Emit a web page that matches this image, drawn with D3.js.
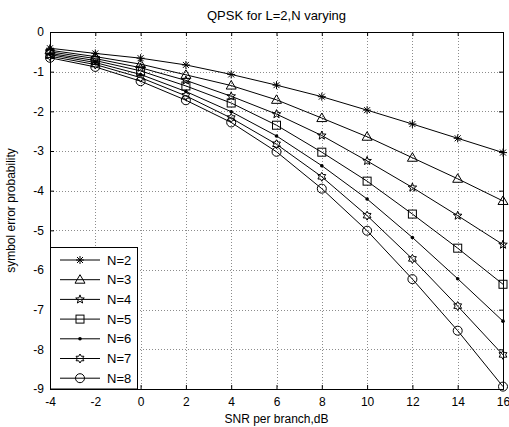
<!DOCTYPE html>
<meta charset="utf-8">
<style>
body { margin: 0; background: #fff; }
text { font-family: "Liberation Sans", Arial, sans-serif; font-size: 12px; fill: #000; }
.grid line { stroke: #8c8c8c; stroke-dasharray: 1,2; shape-rendering: crispEdges; }
.data-line { fill: none; stroke: #000; stroke-width: 1px; }
</style>
<body>
<script src="https://d3js.org/d3.v7.min.js"></script>
<script>

var snr = [-4, -2, 0, 2, 4, 6, 8, 10, 12, 14, 16];
var seriesNames = ["N=2", "N=3", "N=4", "N=5", "N=6", "N=7", "N=8"];
var n2 = [-0.41, -0.54, -0.66, -0.83, -1.07, -1.34, -1.63, -1.97, -2.32, -2.68, -3.04];
var n3 = [-0.46, -0.62, -0.81, -1.08, -1.35, -1.71, -2.17, -2.64, -3.17, -3.70, -4.26];
var n4 = [-0.50, -0.67, -0.90, -1.22, -1.62, -2.07, -2.61, -3.25, -3.92, -4.63, -5.36];
var n5 = [-0.54, -0.72, -0.98, -1.36, -1.79, -2.35, -3.03, -3.76, -4.59, -5.45, -6.36];
var n6 = [-0.57, -0.77, -1.07, -1.50, -2.01, -2.62, -3.37, -4.21, -5.18, -6.22, -7.29];
var n7 = [-0.61, -0.82, -1.15, -1.61, -2.17, -2.83, -3.65, -4.63, -5.72, -6.91, -8.14];
var n8 = [-0.65, -0.88, -1.24, -1.72, -2.28, -3.02, -3.95, -5.01, -6.23, -7.53, -8.94];
var xTicks = [-4, -2, 0, 2, 4, 6, 8, 10, 12, 14, 16];
var yTicks = [0, -1, -2, -3, -4, -5, -6, -7, -8, -9];

var series = [n2, n3, n4, n5, n6, n7, n8];
var markers = ["asterisk", "triangle", "pentagram", "square", "dot", "hexagram", "circle"];

var W = 509, H = 427;
var margin = {top: 32, right: 6, bottom: 38, left: 50};
var width = W - margin.left - margin.right,
    height = H - margin.top - margin.bottom;

var svg = d3.select("body").append("svg")
    .attr("width", W)
    .attr("height", H)
  .append("g")
    .attr("transform", "translate(" + margin.left + "," + margin.top + ")");

var x = d3.scaleLinear().domain([-4, 16]).range([0, width]);
var y = d3.scaleLinear().domain([-9, 0]).range([height, 0]);

// plain hyphen minus like matlab
var fmt = function(d) { return String(d); };

// grid
var grid = svg.append("g").attr("class", "grid");
grid.selectAll(".gx").data(xTicks.slice(1, -1)).enter().append("line")
    .attr("x1", function(d) { return Math.round(x(d)) + 0.5; })
    .attr("x2", function(d) { return Math.round(x(d)) + 0.5; })
    .attr("y1", 0).attr("y2", height);
grid.selectAll(".gy").data(yTicks.slice(1, -1)).enter().append("line")
    .attr("y1", function(d) { return Math.round(y(d)) + 0.5; })
    .attr("y2", function(d) { return Math.round(y(d)) + 0.5; })
    .attr("x1", 0).attr("x2", width);

// axes with inward ticks (MATLAB box style)
function styleAxis(g) {
    g.select(".domain").remove();
    g.selectAll("line").attr("stroke", "#000");
    g.selectAll("text").style("font-size", "12px");
}
svg.append("g").attr("transform", "translate(0," + height + ")")
    .call(d3.axisBottom(x).tickValues(xTicks).tickSize(-4).tickPadding(8).tickFormat(fmt))
    .call(styleAxis);
svg.append("g")
    .call(d3.axisTop(x).tickValues(xTicks).tickSize(-4).tickFormat(""))
    .call(styleAxis);
svg.append("g")
    .call(d3.axisLeft(y).tickValues(yTicks).tickSize(-4).tickPadding(6).tickFormat(fmt))
    .call(styleAxis);
svg.append("g").attr("transform", "translate(" + width + ",0)")
    .call(d3.axisRight(y).tickValues(yTicks).tickSize(-4).tickFormat(""))
    .call(styleAxis);

svg.append("rect")
    .attr("x", 0.5).attr("y", 0.5)
    .attr("width", width).attr("height", height)
    .attr("fill", "none").attr("stroke", "#000");

// marker drawing
function drawMarker(g, type) {
    if (type === "asterisk") {
        g.append("path").attr("d", "M-4,0H4M0,-4V4M-3,-3L3,3M-3,3L3,-3")
            .attr("stroke", "#000").attr("fill", "none");
    } else if (type === "triangle") {
        g.append("path").attr("d", "M0,-5L5,3.5L-5,3.5Z")
            .attr("stroke", "#000").attr("fill", "none");
    } else if (type === "square") {
        g.append("rect").attr("x", -4).attr("y", -4).attr("width", 8).attr("height", 8)
            .attr("stroke", "#000").attr("fill", "none");
    } else if (type === "circle") {
        g.append("circle").attr("r", 4.5)
            .attr("stroke", "#000").attr("fill", "none");
    } else if (type === "dot") {
        g.append("circle").attr("r", 1.8).attr("fill", "#000");
    } else if (type === "pentagram") {
        g.append("path").attr("d", starPath(5, 4.5, 1.9))
            .attr("stroke", "#000").attr("fill", "none");
    } else if (type === "hexagram") {
        g.append("path").attr("d", starPath(6, 4.5, 2.6))
            .attr("stroke", "#000").attr("fill", "none");
    }
}
function starPath(n, ro, ri) {
    var pts = [];
    for (var i = 0; i < 2 * n; i++) {
        var a = -Math.PI / 2 + i * Math.PI / n;
        var r = i % 2 ? ri : ro;
        pts.push([r * Math.cos(a), r * Math.sin(a)]);
    }
    return "M" + pts.map(function(p) { return p[0].toFixed(2) + "," + p[1].toFixed(2); }).join("L") + "Z";
}

var line = d3.line()
    .x(function(d, i) { return x(snr[i]); })
    .y(function(d) { return y(d); });

series.forEach(function(s, k) {
    svg.append("path").datum(s)
        .attr("class", "data-line")
        .attr("d", line);
    s.forEach(function(v, i) {
        var g = svg.append("g")
            .attr("transform", "translate(" + x(snr[i]) + "," + y(v) + ")");
        drawMarker(g, markers[k]);
    });
});

// legend
var lg = svg.append("g").attr("transform", "translate(0," + (height - 142) + ")");
lg.append("rect")
    .attr("x", 0.5).attr("y", 0.5)
    .attr("width", 87).attr("height", 141.5)
    .attr("fill", "#fff").attr("stroke", "#000");
seriesNames.forEach(function(name, k) {
    var ry = 13 + k * 19.7;
    lg.append("line").attr("x1", 10).attr("x2", 50)
        .attr("y1", ry).attr("y2", ry).attr("stroke", "#000");
    drawMarker(lg.append("g").attr("transform", "translate(30," + ry + ")"), markers[k]);
    lg.append("text").attr("x", 57).attr("y", ry + 4.5).style("font-size", "13px").text(name);
});

// titles
svg.append("text")
    .attr("x", width / 2).attr("y", -12)
    .attr("text-anchor", "middle")
    .style("font-size", "13px")
    .text("QPSK for L=2,N varying");
svg.append("text")
    .attr("x", width / 2).attr("y", height + 34)
    .attr("text-anchor", "middle")
    .text("SNR per branch,dB");
svg.append("text")
    .attr("transform", "translate(-35," + (height / 2) + ") rotate(-90)")
    .attr("text-anchor", "middle")
    .text("symbol error probability");

</script>
</body>
